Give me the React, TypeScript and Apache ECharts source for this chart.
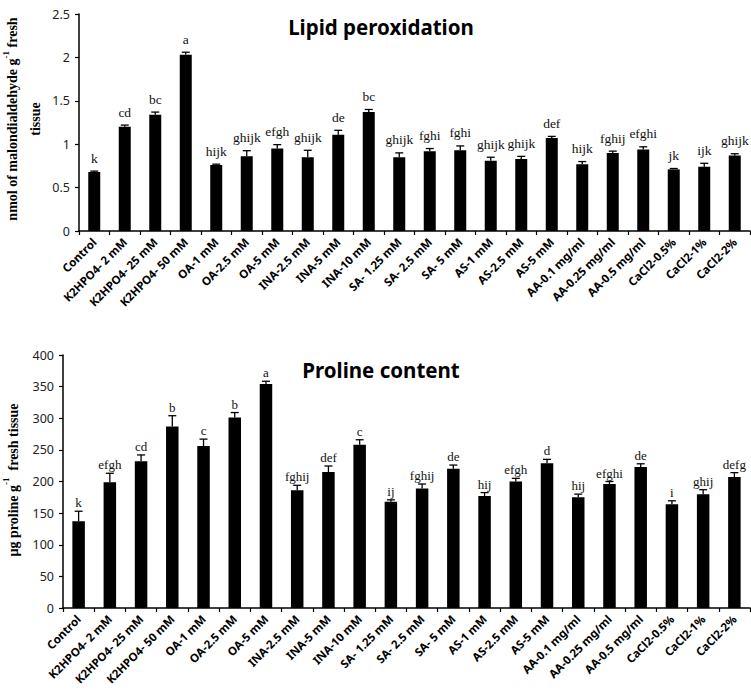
import React, { useEffect, useRef } from "react";
import * as echarts from "echarts";

const categories = [
  "Control", "K2HPO4- 2 mM", "K2HPO4- 25 mM", "K2HPO4- 50 mM", "OA-1 mM", "OA-2.5 mM",
  "OA-5 mM", "INA-2.5 mM", "INA-5 mM", "INA-10 mM", "SA- 1.25 mM", "SA- 2.5 mM", "SA- 5 mM",
  "AS-1 mM", "AS-2.5 mM", "AS-5 mM", "AA-0.1 mg/ml", "AA-0.25 mg/ml", "AA-0.5 mg/ml",
  "CaCl2-0.5%", "CaCl2-1%", "CaCl2-2%",
];

const lipidValues = [0.68, 1.2, 1.34, 2.03, 0.76, 0.86, 0.95, 0.85, 1.11, 1.37, 0.85, 0.92, 0.93, 0.81, 0.83, 1.07, 0.77, 0.9, 0.94, 0.71, 0.74, 0.87];
const lipidErrors = [0.01, 0.02, 0.03, 0.03, 0.01, 0.065, 0.045, 0.08, 0.05, 0.03, 0.05, 0.03, 0.05, 0.04, 0.03, 0.02, 0.03, 0.02, 0.03, 0.01, 0.04, 0.02];
const lipidLetters = ["k", "cd", "bc", "a", "hijk", "ghijk", "efgh", "ghijk", "de", "bc", "ghijk", "fghi", "fghi", "ghijk", "ghijk", "def", "hijk", "fghij", "efghi", "jk", "ijk", "ghijk"];

const prolineValues = [137, 199, 232, 287, 256, 301, 354, 186, 215, 258, 168, 189, 220, 177, 200, 229, 175, 196, 223, 164, 180, 207];
const prolineErrors = [16, 14, 10, 17, 11, 8, 4.5, 8, 9.5, 8, 3, 7, 6, 5.5, 5, 6, 5, 4, 5, 5.5, 7, 7];
const prolineLetters = ["k", "efgh", "cd", "b", "c", "b", "a", "fghij", "def", "c", "ij", "fghij", "de", "hij", "efgh", "d", "hij", "efghi", "de", "i", "ghij", "defg"];

const lipidAxis = { min: 0, max: 2.5, interval: 0.5 };
const prolineAxis = { min: 0, max: 400, interval: 50 };

const SANS = "'Noto Sans', 'Liberation Sans', sans-serif";
const SERIF = "'Liberation Serif', 'DejaVu Serif', serif";

function errorSeries(values: number[], errors: number[], letters: string[], idx: number, fontSize: number, gap: number) {
  return {
    type: "custom",
    xAxisIndex: idx,
    yAxisIndex: idx,
    z: 5,
    data: values.map((v, i) => [i, v, errors[i]]),
    encode: { x: 0, y: 1 },
    renderItem: (params: any, api: any) => {
      const i = api.value(0);
      const v = api.value(1);
      const e = api.value(2);
      const base = api.coord([i, v]);
      const top = api.coord([i, v + e]);
      const cap = 4;
      return {
        type: "group",
        children: [
          { type: "line", shape: { x1: base[0], y1: base[1], x2: top[0], y2: top[1] }, style: { stroke: "#000", lineWidth: 1.3 } },
          { type: "line", shape: { x1: top[0] - cap, y1: top[1], x2: top[0] + cap, y2: top[1] }, style: { stroke: "#000", lineWidth: 1.3 } },
          {
            type: "text",
            x: top[0],
            y: top[1] - gap,
            style: { text: letters[params.dataIndex], fill: "#111", font: `${fontSize}px ${SERIF}`, align: "center", verticalAlign: "bottom" },
          },
        ],
      };
    },
  };
}

export default function App() {
  const ref = useRef<HTMLDivElement>(null);
  useEffect(() => {
    document.body.style.margin = "0";
    const chart = echarts.init(ref.current!, null, { renderer: "svg" });
    const xAxisBase = {
      type: "category",
      data: categories,
      axisLine: { lineStyle: { color: "#000", width: 1.5 } },
      axisTick: { show: true, length: 4, lineStyle: { color: "#000", width: 1.2 } },
      axisLabel: {
        interval: 0,
        rotate: 45,
        margin: 9,
        color: "#000",
        fontFamily: SANS,
        fontSize: 11.5,
        fontWeight: "bold",
      },
    };
    const yAxisBase = {
      type: "value",
      splitLine: { show: false },
      axisLine: { show: true, lineStyle: { color: "#000", width: 1.5 } },
      axisTick: { show: true, length: 4, lineStyle: { color: "#000", width: 1.2 } },
      axisLabel: { color: "#222", fontFamily: SANS, fontSize: 12.5, margin: 9 },
    };
    const nameStyle = { font: `bold 14px ${SERIF}`, fill: "#000" };
    const rich = {
      b: { fontFamily: SERIF, fontWeight: "bold", fontSize: 14, fill: "#000", lineHeight: 23 },
      s: { fontFamily: SERIF, fontWeight: "bold", fontSize: 9, fill: "#000", verticalAlign: "top", lineHeight: 23 },
    };
    chart.setOption({
      animation: false,
      backgroundColor: "#fff",
      title: [
        { text: "Lipid peroxidation", left: 376, top: 11, textAlign: "center", textStyle: { fontFamily: SANS, fontWeight: "bold", fontSize: 20.5, color: "#000" } },
        { text: "Proline content", left: 376, top: 354, textAlign: "center", textStyle: { fontFamily: SANS, fontWeight: "bold", fontSize: 20.5, color: "#000" } },
      ],
      grid: [
        { left: 79, top: 14, width: 671, height: 217 },
        { left: 63, top: 355, width: 687, height: 253 },
      ],
      xAxis: [
        { ...xAxisBase, gridIndex: 0 },
        { ...xAxisBase, gridIndex: 1 },
      ],
      yAxis: [
        { ...yAxisBase, gridIndex: 0, ...lipidAxis },
        { ...yAxisBase, gridIndex: 1, ...prolineAxis },
      ],
      graphic: [
        {
          type: "text",
          x: 24,
          y: 119,
          rotation: Math.PI / 2,
          style: {
            text: "{b|nmol of malondialdehyde g}{s|-1}{b| fresh}\n{b|tissue}",
            rich,
            align: "center",
            verticalAlign: "middle",
            ...nameStyle,
          },
        },
        {
          type: "text",
          x: 13,
          y: 480,
          rotation: Math.PI / 2,
          style: {
            text: "{b|µg proline g}{s|-1}{b|  fresh tissue}",
            rich,
            align: "center",
            verticalAlign: "middle",
            ...nameStyle,
          },
        },
      ],
      series: [
        { type: "bar", xAxisIndex: 0, yAxisIndex: 0, data: lipidValues, barWidth: 12, itemStyle: { color: "#000" } },
        errorSeries(lipidValues, lipidErrors, lipidLetters, 0, 13.5, 6),
        { type: "bar", xAxisIndex: 1, yAxisIndex: 1, data: prolineValues, barWidth: 12.5, itemStyle: { color: "#000" } },
        errorSeries(prolineValues, prolineErrors, prolineLetters, 1, 13, 2),
      ],
    });
    return () => chart.dispose();
  }, []);
  return <div ref={ref} style={{ width: 751, height: 696 }} />;
}
